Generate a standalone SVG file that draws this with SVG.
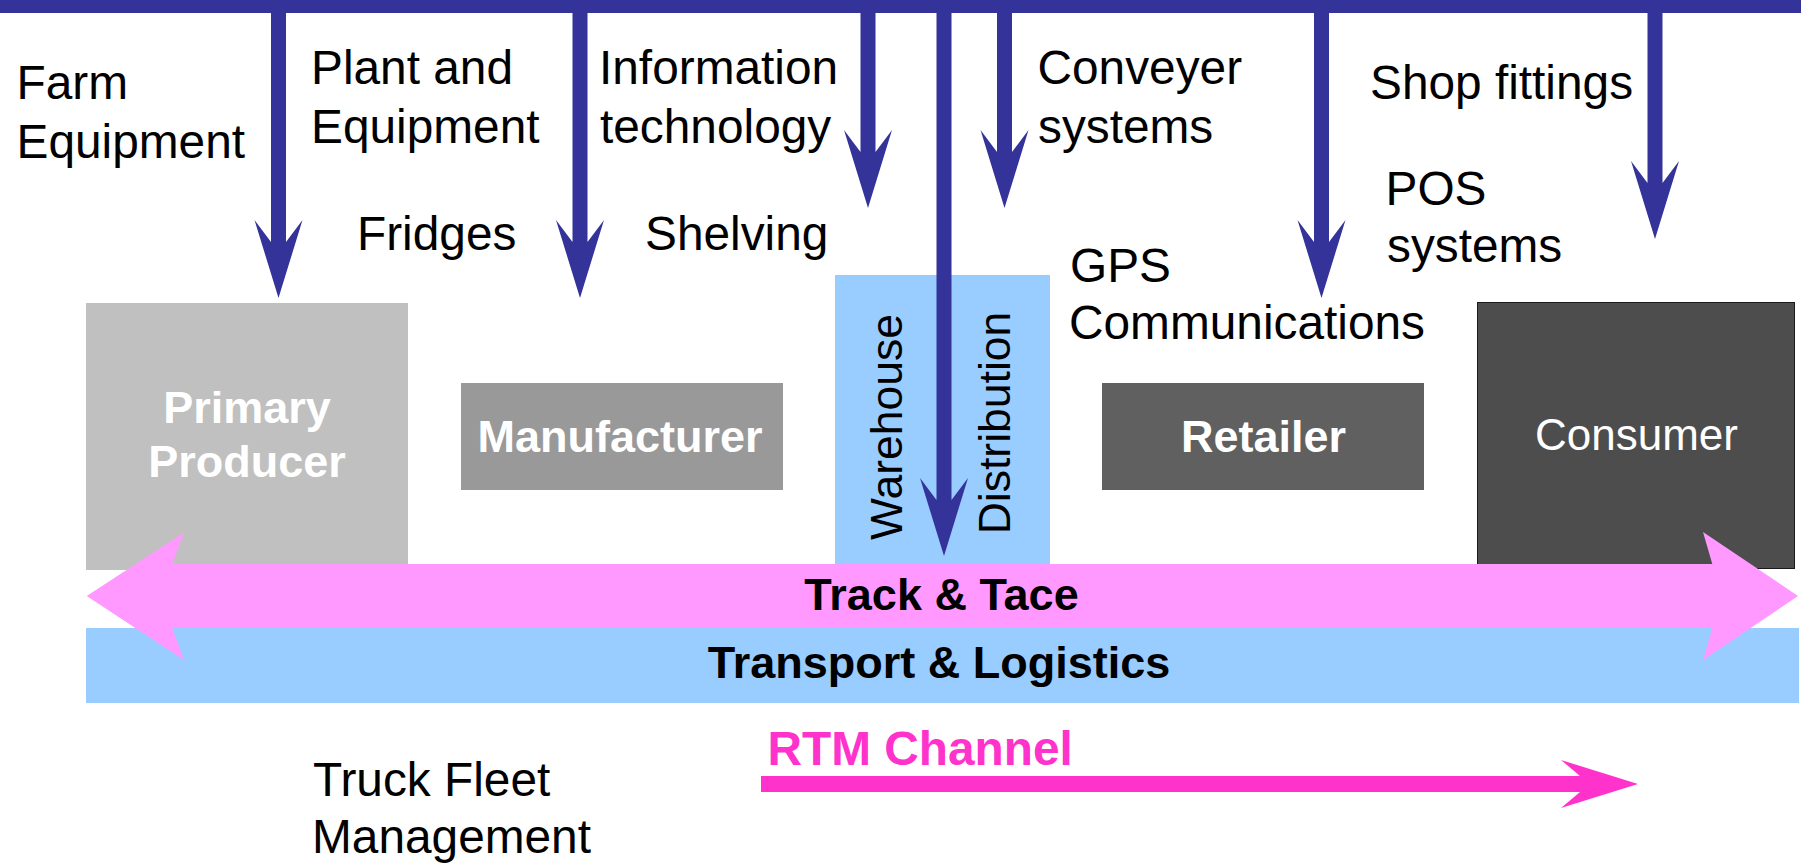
<svg xmlns="http://www.w3.org/2000/svg" xmlns:xlink="http://www.w3.org/1999/xlink" width="1801" height="865" viewBox="0 0 1801 865">
  <style>
    text { font-family: "Liberation Sans", Arial, Helvetica, sans-serif; }
    .label { font-size: 47.8px; fill: #000000; }
    .box-title { font-size: 45px; font-weight: bold; fill: #ffffff; text-anchor: middle; }
    .box-title-plain { font-size: 44px; fill: #ffffff; text-anchor: middle; }
    .vert { font-size: 44.5px; fill: #000000; text-anchor: middle; }
    .band-title { font-size: 45px; font-weight: bold; fill: #000000; text-anchor: middle; }
    .feed { fill: #333399; }
    .trace { fill: #ff99ff; }
    .sky { fill: #99ccff; }
  </style>
  <defs>
    <!-- downward feed arrow, tip at origin, shaft running up off the top edge -->
    <path id="drop" d="M -7.5 -620 L 7.5 -620 L 7.5 -56 L 24 -78 L 0 0 L -24 -78 L -7.5 -56 Z"/>
  </defs>

  <rect width="1801" height="865" fill="#ffffff"/>

  <!-- supplier feed bus -->
  <rect id="feed-bus" class="feed" x="0" y="0" width="1801" height="13"/>

  <!-- transport band sits beneath the tracking arrow -->
  <g id="transport-logistics">
    <rect class="sky" x="86" y="628" width="1713" height="75"/>
    <text class="band-title" x="939" y="678">Transport &amp; Logistics</text>
  </g>

  <g id="primary-producer">
    <rect x="86" y="303" width="322" height="267" fill="#c0c0c0"/>
    <text class="box-title" x="247" y="423">Primary</text>
    <text class="box-title" x="247" y="477">Producer</text>
  </g>

  <g id="manufacturer">
    <rect x="461" y="383" width="322" height="107" fill="#999999"/>
    <text class="box-title" x="620" y="452">Manufacturer</text>
  </g>

  <g id="warehouse-distribution">
    <rect class="sky" x="835" y="275" width="215" height="290"/>
    <text class="vert" transform="translate(901.5 427) rotate(-90)">Warehouse</text>
    <text class="vert" transform="translate(1009.5 423) rotate(-90)">Distribution</text>
  </g>

  <g id="retailer">
    <rect x="1102" y="383" width="322" height="107" fill="#606060"/>
    <text class="box-title" x="1263.5" y="452">Retailer</text>
  </g>

  <g id="consumer">
    <rect x="1477.5" y="302.5" width="317" height="266" fill="#4d4d4d" stroke="#1a1a1a" stroke-width="1"/>
    <text class="box-title-plain" x="1636.5" y="450">Consumer</text>
  </g>

  <g id="track-trace">
    <path class="trace" d="M 86.7 596 L 184 532.5 L 172.3 564 L 1712.3 564 L 1703 532 L 1798 596 L 1703 660 L 1712.3 628 L 172.3 628 L 184 660 Z"/>
    <text class="band-title" x="941.5" y="610">Track &amp; Tace</text>
  </g>

  <!-- input labels -->
  <g id="labels">
    <text class="label" x="16.5" y="99">Farm</text>
    <text class="label" x="16.5" y="158">Equipment</text>
    <text class="label" x="311" y="84">Plant and</text>
    <text class="label" x="311" y="143">Equipment</text>
    <text class="label" x="599" y="84">Information</text>
    <text class="label" x="600" y="143">technology</text>
    <text class="label" x="357" y="250">Fridges</text>
    <text class="label" x="645" y="250">Shelving</text>
    <text class="label" x="1037.5" y="84">Conveyer</text>
    <text class="label" x="1038" y="143">systems</text>
    <text class="label" x="1370" y="99">Shop fittings</text>
    <text class="label" x="1385.5" y="205">POS</text>
    <text class="label" x="1387" y="262">systems</text>
    <text class="label" x="1070" y="282">GPS</text>
    <text class="label" x="1069" y="339">Communications</text>
    <text class="label" x="313" y="796">Truck Fleet</text>
    <text class="label" x="312" y="853">Management</text>
  </g>

  <!-- feed arrows down from the bus -->
  <g id="connectors" class="feed">
    <use xlink:href="#drop" href="#drop" x="278.5" y="298"/>
    <use xlink:href="#drop" href="#drop" x="580" y="298"/>
    <use xlink:href="#drop" href="#drop" x="868" y="208"/>
    <use xlink:href="#drop" href="#drop" x="944" y="556"/>
    <use xlink:href="#drop" href="#drop" x="1004.5" y="208"/>
    <use xlink:href="#drop" href="#drop" x="1321.5" y="298"/>
    <use xlink:href="#drop" href="#drop" x="1655" y="239"/>
  </g>

  <g id="rtm-channel">
    <path fill="#ff33cc" d="M 761 776 L 1580 776 L 1561 760 L 1638 784 L 1561 808 L 1580 792 L 761 792 Z"/>
    <text x="767.5" y="765" font-size="47.8" font-weight="bold" fill="#ff33cc">RTM Channel</text>
  </g>
</svg>
